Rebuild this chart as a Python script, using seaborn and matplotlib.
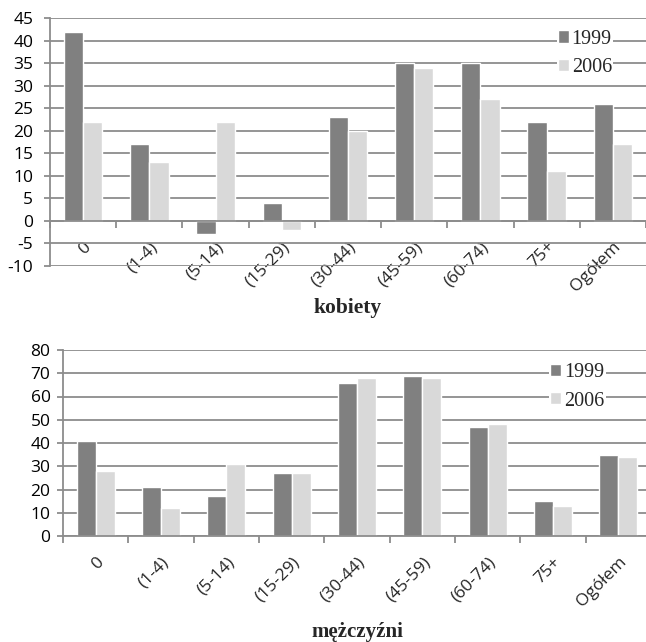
import numpy as np
import pandas as pd
import matplotlib
matplotlib.use("Agg")
import matplotlib.pyplot as plt
import seaborn as sns

categories = ["0", "(1-4)", "(5-14)", "(15-29)", "(30-44)", "(45-59)", "(60-74)", "75+", "Ogółem"]
years = ["1999", "2006"]
kobiety_1999 = [42, 17, -3, 4, 23, 35, 35, 22, 26]
kobiety_2006 = [22, 13, 22, -2, 20, 34, 27, 11, 17]
mezczyzni_1999 = [41, 21, 17, 27, 66, 69, 47, 15, 35]
mezczyzni_2006 = [28, 12, 31, 27, 68, 68, 48, 13, 34]
top_yticks = list(range(-10, 50, 5))
bottom_yticks = list(range(0, 90, 10))

sns.set_theme(style="white")
plt.rcParams['font.family'] = ['Open Sans', 'DejaVu Sans']
plt.rcParams['axes.unicode_minus'] = False

W, H = 646, 642
fig = plt.figure(figsize=(W / 100, H / 100), dpi=100)
palette = {"1999": "#808080", "2006": "#d9d9d9"}
GRID = "#8c8c8c"


def make_df(a, b):
    return pd.DataFrame({
        "grupa": categories * 2,
        "rok": [years[0]] * len(a) + [years[1]] * len(b),
        "wartosc": list(a) + list(b),
    })


def px_axes(x0, y0, x1, y1):
    return fig.add_axes([x0 / W, 1 - y1 / H, (x1 - x0) / W, (y1 - y0) / H])


def style(ax, ylim, yticks, ypad, xpad, title, title_xy, title_size, leg_anchor):
    ax.set_ylim(*ylim)
    ax.set_yticks(yticks)
    ax.set_xlim(-0.5, len(categories) - 0.5)
    ax.set_axisbelow(True)
    ax.yaxis.grid(True, color=GRID, linewidth=1.3)
    ax.xaxis.grid(False)
    for s in ["top", "right"]:
        ax.spines[s].set_visible(False)
    ax.spines["left"].set_color(GRID)
    ax.spines["left"].set_linewidth(1.3)
    ax.spines["bottom"].set_position(("data", 0))
    ax.spines["bottom"].set_color(GRID)
    ax.spines["bottom"].set_linewidth(1.3)
    ax.tick_params(axis="y", left=True, length=4, width=1.3, color=GRID,
                   labelsize=12.5, pad=ypad, labelcolor="black")
    ax.set_xticks(range(len(categories)))
    ax.set_xticklabels(categories, rotation=45, ha="right", va="top",
                       rotation_mode="anchor", fontsize=12.5)
    ax.set_xticks(np.arange(-0.5, len(categories), 1.0), minor=True)
    ax.tick_params(axis="x", which="major", length=0, pad=xpad)
    ax.tick_params(axis="x", which="minor", bottom=True, length=5, width=1.3, color=GRID)
    ax.set_xlabel("")
    ax.set_ylabel("")
    fig.text(title_xy[0] / W, 1 - title_xy[1] / H, title, family="Liberation Serif",
             fontweight="bold", fontsize=title_size, ha="center", va="center")
    leg = ax.legend(loc="upper left", bbox_to_anchor=leg_anchor, frameon=True,
                    prop={"family": "Liberation Serif", "size": 14.5},
                    handlelength=0.55, handleheight=0.55, handletextpad=0.15,
                    borderpad=0.05, labelspacing=0.45, borderaxespad=0)
    leg.get_frame().set_facecolor("white")
    leg.get_frame().set_edgecolor("none")
    leg.get_frame().set_alpha(1)


ax1 = px_axes(50, 18, 646, 266)
sns.barplot(data=make_df(kobiety_1999, kobiety_2006), x="grupa", y="wartosc", hue="rok",
            palette=palette, width=0.58, saturation=1, ax=ax1, order=categories)
style(ax1, (-10, 45), top_yticks, 8, 13, "kobiety", (348, 308), 15.5, (0.85, 0.957))

ax2 = px_axes(63, 350, 651, 536)
sns.barplot(data=make_df(mezczyzni_1999, mezczyzni_2006), x="grupa", y="wartosc", hue="rok",
            palette=palette, width=0.58, saturation=1, ax=ax2, order=categories)
style(ax2, (0, 80), bottom_yticks, 5, 13, "mężczyźni", (357, 632), 15, (0.827, 0.933))

fig.savefig("out.png", dpi=100)
